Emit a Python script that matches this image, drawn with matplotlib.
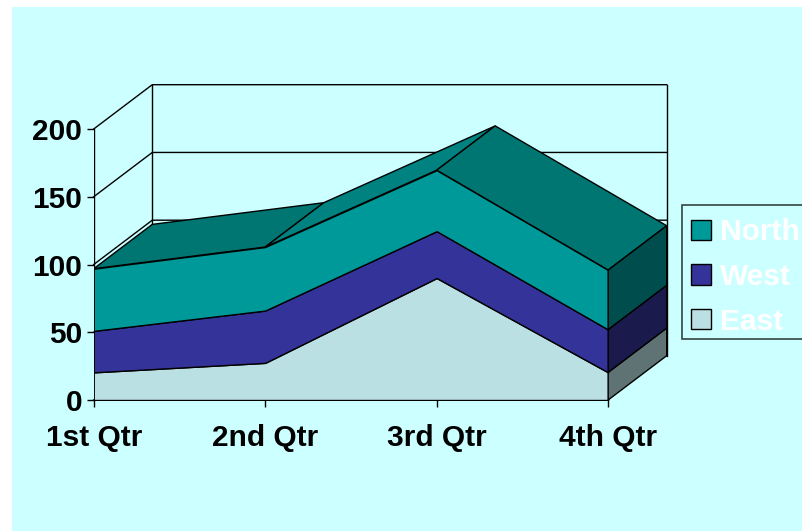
#!/usr/bin/env python3

# Stacked area chart by quarter, drawn with an oblique 3D look

import numpy as np
import matplotlib
matplotlib.use("Agg")
import matplotlib.pyplot as plt
from matplotlib.patches import Patch, Polygon, Rectangle

plt.rcParams['font.family'] = ['Liberation Sans', 'DejaVu Sans']

# ----------------------------
# Data
# ----------------------------
quarters = ["1st Qtr", "2nd Qtr", "3rd Qtr", "4th Qtr"]
series_names = ["East", "West", "North"]
east = [20.4, 27.4, 90.0, 20.4]
west = [30.6, 38.6, 34.6, 31.6]
north = [45.9, 46.9, 45.0, 43.9]
y_ticks = [0, 50, 100, 150, 200]

# ----------------------------
# Styles
# ----------------------------
BG = '#CCFFFF'
FRONT = ['#BBE0E3', '#333399', '#009999']
SIDE = ['#5F7374', '#1A1A4D', '#004D4D']
TOP = '#007672'
TOP_RISE = '#008280'
EDGE = 'black'
LW = 1.0
FS = 21.5

# depth of the box, in data units
DX = 0.3415
DY = 32.7

fig = plt.figure(figsize=(8.02, 5.31), dpi=100, facecolor='white')
fig.patches.append(Rectangle((12 / 802, 0), 1, 524 / 531, transform=fig.transFigure,
                             facecolor=BG, edgecolor='none', zorder=-10))

ax = fig.add_axes([93.7 / 802, 131 / 531, 573 / 802, 315.3 / 531])
ax.patch.set_alpha(0)
ax.set_xlim(0, 3 + DX)
ax.set_ylim(0, 200 + DY)
for s in ax.spines.values():
    s.set_visible(False)

x = np.arange(len(quarters))
stack = np.cumsum([east, west, north], axis=0)

# walls and gridlines
for t in y_ticks:
    ax.plot([0, DX, 3 + DX], [t, t + DY, t + DY], color=EDGE, lw=LW, clip_on=False, zorder=1)
ax.plot([0, 0], [0, 200], color=EDGE, lw=LW, zorder=1)
ax.plot([DX, DX], [DY, 200 + DY], color=EDGE, lw=LW, zorder=1)
ax.plot([3 + DX, 3 + DX], [DY, 200 + DY], color=EDGE, lw=LW, clip_on=False, zorder=1)

# top surface of the stack, one facet per segment
top = stack[-1]
for i in range(len(x) - 1):
    facet = [(x[i], top[i]), (x[i + 1], top[i + 1]),
             (x[i + 1] + DX, top[i + 1] + DY), (x[i] + DX, top[i] + DY)]
    color = TOP_RISE if i == 1 else TOP
    ax.add_patch(Polygon(facet, closed=True, facecolor=color, edgecolor=EDGE, lw=LW, zorder=2))

# front faces and right-hand side faces
lower = np.zeros(len(x))
for k in range(len(series_names)):
    upper = stack[k]
    ax.fill_between(x, lower, upper, facecolor=FRONT[k], edgecolor=EDGE, lw=LW, zorder=3)
    side = [(x[-1], lower[-1]), (x[-1], upper[-1]),
            (x[-1] + DX, upper[-1] + DY), (x[-1] + DX, lower[-1] + DY)]
    ax.add_patch(Polygon(side, closed=True, facecolor=SIDE[k], edgecolor=EDGE, lw=LW,
                         clip_on=False, zorder=3))
    lower = upper

ax.set_xticks(x, quarters, fontsize=FS, fontweight='bold')
ax.set_yticks(y_ticks, [str(t) for t in y_ticks], fontsize=FS, fontweight='bold')
ax.tick_params(axis='both', length=5, width=LW, color=EDGE)
ax.tick_params(axis='x', pad=12)
ax.tick_params(axis='y', pad=3.4)

# legend box runs off the right edge of the figure
fig.patches.append(Rectangle((682 / 802, 1 - 339 / 531), 140 / 802, 134 / 531,
                             transform=fig.transFigure, facecolor=BG, edgecolor='#334444',
                             lw=1.2, zorder=-5))
handles = [Patch(facecolor=FRONT[k], edgecolor=EDGE, lw=LW, label=series_names[k])
           for k in [2, 1, 0]]
leg = fig.legend(handles=handles, loc='upper left', bbox_to_anchor=(682 / 802, 1 - 209 / 531),
                 borderaxespad=0, prop={'weight': 'bold', 'size': FS},
                 handlelength=0.67, handleheight=0.67, handletextpad=0.28, labelspacing=0.56,
                 borderpad=0.31, frameon=False)
for txt in leg.get_texts():
    txt.set_color('white')

fig.savefig('out.png', dpi=100, facecolor=fig.get_facecolor())
